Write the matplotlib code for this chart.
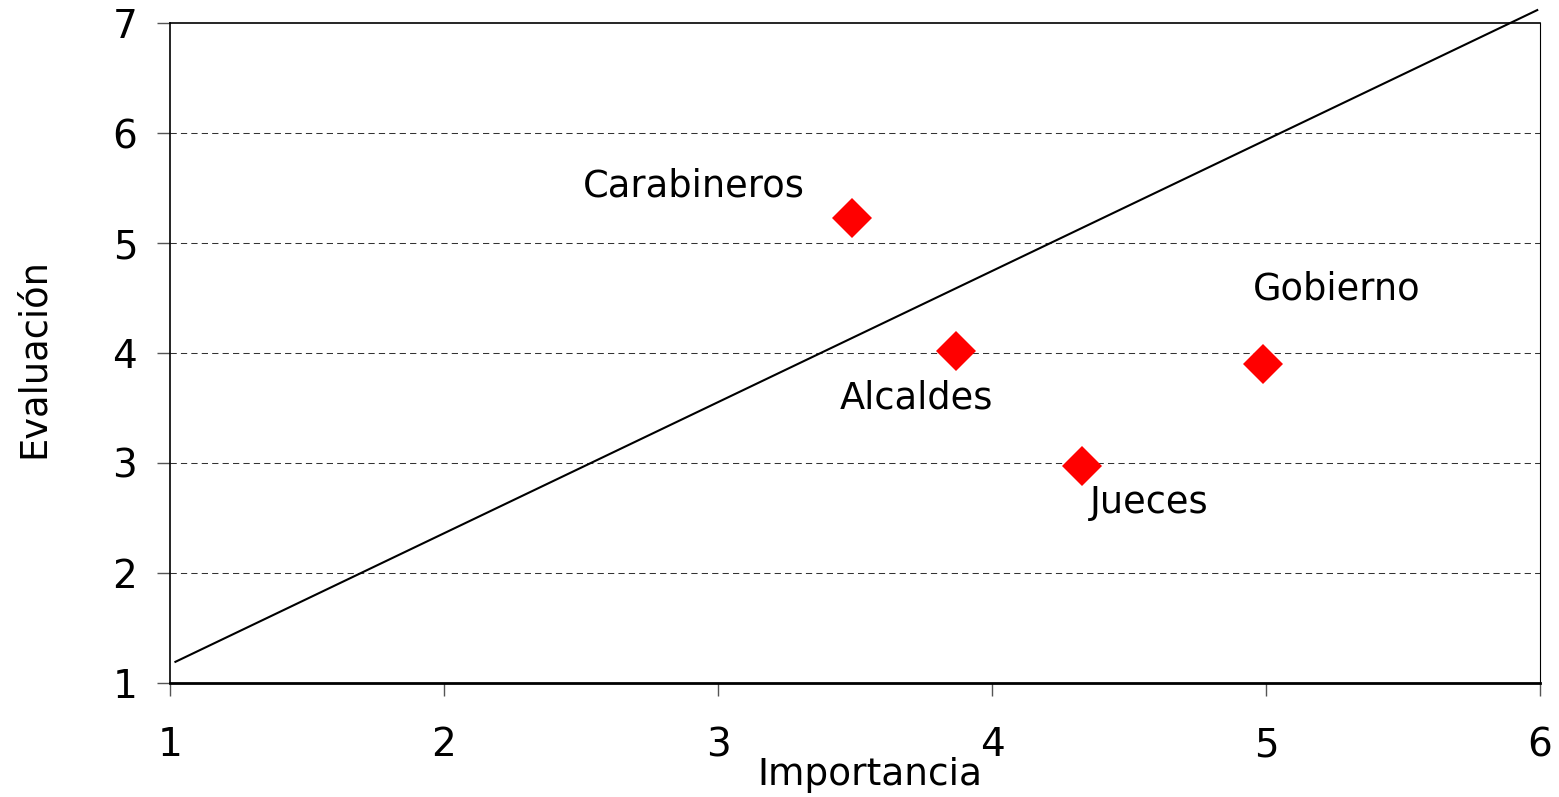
import numpy as np
import matplotlib
matplotlib.use("Agg")
import matplotlib.pyplot as plt

# data
names = ["Carabineros", "Alcaldes", "Jueces", "Gobierno"]
importancia = [3.49, 3.87, 4.33, 4.99]
evaluacion = [5.23, 4.02, 2.97, 3.90]

# reference line, drawn between two end points
line_x = [1.02, 5.99]
line_y = [1.19, 7.12]

# label offsets (points) relative to each marker
offsets = [(-114, 23), (-29, -34), (48, -26), (53, 54)]

plt.rcParams['font.family'] = ['DejaVu Sans']

fig = plt.figure(figsize=(15.59, 7.97), dpi=100)
ax = fig.add_axes([0.109, 0.1434, 0.8788, 0.8274])

ax.set_xlim(1, 6)
ax.set_ylim(1, 7)
ax.set_xticks(range(1, 7))
ax.set_yticks(range(1, 8))

for y in range(2, 7):
    ax.axhline(y, color="#333333", lw=0.75, ls=(0, (6, 4)), zorder=1)

ax.plot(line_x, line_y, color="black", lw=1.5, clip_on=False, zorder=2)
ax.plot(importancia, evaluacion, ls="none", marker="D", ms=20.5,
        color="#ff0000", mew=0, zorder=3)

for n, x, y, off in zip(names, importancia, evaluacion, offsets):
    ax.annotate(n, (x, y), xytext=off, textcoords="offset points",
                ha="center", va="center", fontsize=26.5)

ax.spines["left"].set_linewidth(1.2)
ax.spines["bottom"].set_linewidth(2)
ax.spines["top"].set_linewidth(1.2)
ax.spines["right"].set_linewidth(0.8)

ax.tick_params(axis="both", direction="out", length=9.5, width=1,
               labelsize=28, color="#555555")
ax.tick_params(axis="x", pad=22)
ax.tick_params(axis="y", pad=14)

fig.text(33 / 1559, 1 - 358 / 797, "Evaluación", rotation=90,
         ha="center", va="center", fontsize=26.5)
fig.text(870 / 1559, 1 - 775 / 797, "Importancia",
         ha="center", va="center", fontsize=27)

fig.savefig("out.png", dpi=100)
